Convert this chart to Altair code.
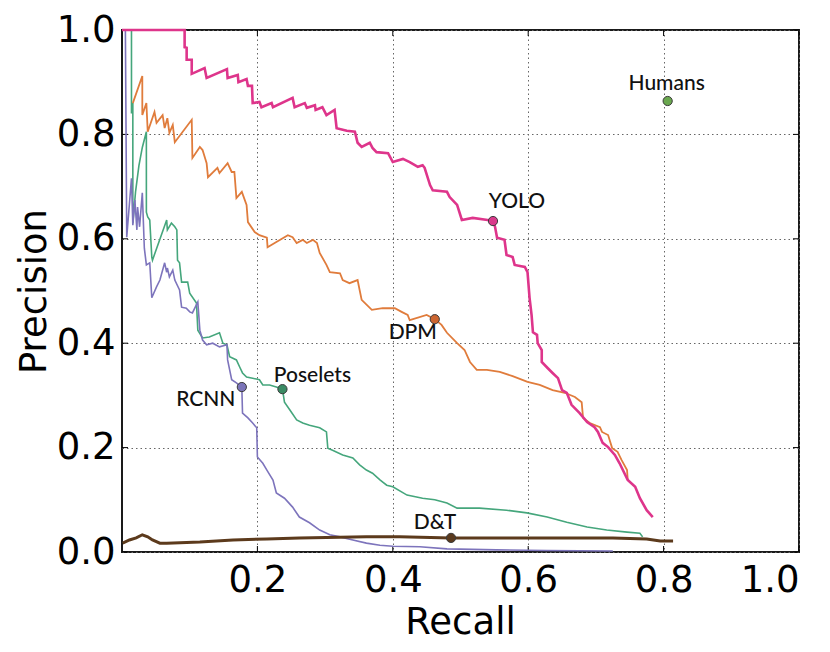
import altair as alt
import pandas as pd

# ---------------- data ----------------
yolo_recall = [0.000, 0.0925, 0.0925, 0.0955, 0.0955, 0.103, 0.103, 0.122, 0.125, 0.155, 0.156, 0.171, 0.172,
               0.184, 0.186, 0.192, 0.193, 0.203, 0.206, 0.221, 0.223, 0.252, 0.255, 0.270, 0.273, 0.285, 0.286,
               0.296, 0.302, 0.314, 0.317, 0.332, 0.344, 0.348, 0.354, 0.366, 0.370, 0.376, 0.393, 0.400, 0.415,
               0.425, 0.437, 0.444, 0.447, 0.455, 0.459, 0.480, 0.484, 0.495, 0.502, 0.518, 0.540, 0.548, 0.551,
               0.554, 0.565, 0.568, 0.577, 0.580, 0.595, 0.599, 0.602, 0.605, 0.607, 0.613, 0.614, 0.620, 0.620,
               0.629, 0.636, 0.644, 0.650, 0.657, 0.664, 0.676, 0.687, 0.698, 0.703, 0.710, 0.718, 0.728, 0.735,
               0.747, 0.758, 0.765, 0.775, 0.784]
yolo_precision = [1.000, 1.000, 0.967, 0.966, 0.943, 0.943, 0.916, 0.927, 0.908, 0.925, 0.908, 0.914, 0.900,
                  0.906, 0.893, 0.893, 0.860, 0.862, 0.852, 0.860, 0.852, 0.870, 0.852, 0.860, 0.851, 0.856, 0.847,
                  0.852, 0.837, 0.847, 0.812, 0.807, 0.805, 0.784, 0.776, 0.784, 0.774, 0.766, 0.764, 0.747, 0.753,
                  0.747, 0.738, 0.741, 0.736, 0.703, 0.693, 0.690, 0.680, 0.665, 0.636, 0.640, 0.636, 0.634, 0.623,
                  0.602, 0.598, 0.569, 0.565, 0.550, 0.546, 0.536, 0.487, 0.454, 0.421, 0.416, 0.400, 0.387, 0.364,
                  0.352, 0.343, 0.333, 0.310, 0.305, 0.282, 0.266, 0.249, 0.239, 0.230, 0.209, 0.201, 0.186, 0.170,
                  0.138, 0.125, 0.103, 0.080, 0.067]

dpm_recall = [0.016, 0.030, 0.030, 0.036, 0.038, 0.048, 0.051, 0.060, 0.063, 0.067, 0.070, 0.075, 0.078, 0.103,
              0.104, 0.115, 0.119, 0.125, 0.127, 0.141, 0.144, 0.156, 0.162, 0.166, 0.169, 0.177, 0.184, 0.186,
              0.196, 0.203, 0.214, 0.215, 0.228, 0.245, 0.252, 0.258, 0.267, 0.273, 0.282, 0.288, 0.292, 0.302,
              0.307, 0.322, 0.326, 0.336, 0.348, 0.351, 0.354, 0.369, 0.385, 0.403, 0.413, 0.422, 0.425, 0.450,
              0.462, 0.472, 0.480, 0.495, 0.506, 0.514, 0.524, 0.539, 0.558, 0.577, 0.599, 0.617, 0.636, 0.654,
              0.669, 0.679, 0.681, 0.691, 0.706, 0.709, 0.718, 0.724, 0.732, 0.738, 0.746, 0.747]
dpm_precision = [0.860, 0.912, 0.837, 0.860, 0.805, 0.843, 0.822, 0.837, 0.812, 0.831, 0.803, 0.818, 0.785, 0.828,
                 0.755, 0.776, 0.770, 0.745, 0.718, 0.736, 0.726, 0.745, 0.728, 0.728, 0.678, 0.690, 0.665, 0.632,
                 0.613, 0.607, 0.602, 0.584, 0.594, 0.607, 0.603, 0.592, 0.598, 0.592, 0.598, 0.592, 0.573, 0.550,
                 0.536, 0.534, 0.521, 0.515, 0.521, 0.502, 0.483, 0.464, 0.467, 0.467, 0.460, 0.454, 0.444, 0.454,
                 0.446, 0.435, 0.420, 0.400, 0.387, 0.364, 0.349, 0.349, 0.345, 0.337, 0.326, 0.320, 0.310, 0.305,
                 0.297, 0.287, 0.257, 0.247, 0.239, 0.230, 0.224, 0.199, 0.192, 0.176, 0.157, 0.138]

poselets_recall = [0.014, 0.014, 0.016, 0.016, 0.020, 0.025, 0.030, 0.036, 0.036, 0.038, 0.041, 0.044, 0.045,
                   0.066, 0.067, 0.073, 0.078, 0.081, 0.082, 0.085, 0.088, 0.097, 0.100, 0.110, 0.112, 0.119,
                   0.129, 0.144, 0.149, 0.155, 0.159, 0.169, 0.174, 0.178, 0.184, 0.193, 0.203, 0.208, 0.218,
                   0.228, 0.237, 0.240, 0.248, 0.258, 0.267, 0.277, 0.292, 0.302, 0.304, 0.311, 0.326, 0.341,
                   0.351, 0.361, 0.370, 0.381, 0.391, 0.400, 0.421, 0.444, 0.462, 0.480, 0.495, 0.528, 0.568,
                   0.598, 0.628, 0.657, 0.687, 0.716, 0.746, 0.765, 0.769]
poselets_precision = [1.000, 0.840, 0.860, 0.630, 0.690, 0.740, 0.775, 0.805, 0.651, 0.642, 0.636, 0.565, 0.559,
                      0.636, 0.617, 0.630, 0.623, 0.617, 0.559, 0.554, 0.517, 0.517, 0.496, 0.477, 0.425, 0.410,
                      0.412, 0.420, 0.400, 0.397, 0.374, 0.368, 0.354, 0.343, 0.335, 0.333, 0.330, 0.320, 0.320,
                      0.316, 0.312, 0.287, 0.272, 0.253, 0.247, 0.243, 0.238, 0.230, 0.199, 0.195, 0.186, 0.180,
                      0.167, 0.157, 0.151, 0.138, 0.128, 0.125, 0.109, 0.103, 0.100, 0.094, 0.084, 0.084, 0.080,
                      0.075, 0.067, 0.057, 0.048, 0.042, 0.038, 0.036, 0.029]

rcnn_recall = [0.005, 0.007, 0.014, 0.016, 0.019, 0.022, 0.023, 0.026, 0.030, 0.033, 0.036, 0.041, 0.044, 0.051,
               0.056, 0.063, 0.066, 0.067, 0.070, 0.075, 0.078, 0.085, 0.088, 0.095, 0.100, 0.104, 0.112, 0.115,
               0.119, 0.125, 0.134, 0.144, 0.155, 0.156, 0.162, 0.169, 0.177, 0.178, 0.186, 0.193, 0.199, 0.200,
               0.208, 0.214, 0.223, 0.228, 0.240, 0.252, 0.262, 0.277, 0.292, 0.307, 0.322, 0.341, 0.361, 0.381,
               0.400, 0.440, 0.480, 0.553, 0.627, 0.725]
rcnn_precision = [1.000, 0.603, 0.716, 0.626, 0.674, 0.617, 0.661, 0.623, 0.688, 0.582, 0.550, 0.554, 0.487, 0.508,
                  0.521, 0.554, 0.536, 0.544, 0.527, 0.540, 0.521, 0.502, 0.469, 0.467, 0.460, 0.458, 0.479, 0.425,
                  0.406, 0.397, 0.400, 0.393, 0.397, 0.368, 0.330, 0.324, 0.316, 0.266, 0.257, 0.247, 0.238, 0.182,
                  0.170, 0.157, 0.138, 0.113, 0.103, 0.086, 0.067, 0.056, 0.042, 0.033, 0.029, 0.023, 0.017, 0.013,
                  0.011, 0.010, 0.006, 0.004, 0.003, 0.002]

dt_recall = [0.001, 0.011, 0.021, 0.030, 0.038, 0.045, 0.056, 0.066, 0.115, 0.164, 0.214, 0.262, 0.361, 0.410,
             0.486, 0.725, 0.775, 0.795, 0.814]
dt_precision = [0.017, 0.023, 0.027, 0.033, 0.029, 0.023, 0.017, 0.017, 0.019, 0.023, 0.025, 0.027, 0.029, 0.029,
                0.027, 0.027, 0.025, 0.021, 0.021]

# labelled operating points
point_names = ["YOLO", "DPM", "Poselets", "RCNN", "D&T", "Humans"]
point_recall = [0.548, 0.462, 0.237, 0.177, 0.486, 0.806]
point_precision = [0.634, 0.446, 0.312, 0.316, 0.027, 0.864]

x_ticks = [0.2, 0.4, 0.6, 0.8, 1.0]
y_ticks = [0.0, 0.2, 0.4, 0.6, 0.8, 1.0]

# ---------------- styling ----------------
W, H = 677, 522
series = [
    ("Poselets", poselets_recall, poselets_precision, "#45a67c", 1.6),
    ("RCNN", rcnn_recall, rcnn_precision, "#7d74bc", 1.6),
    ("DPM", dpm_recall, dpm_precision, "#e07c3c", 1.8),
    ("YOLO", yolo_recall, yolo_precision, "#de358b", 2.6),
    ("D&T", dt_recall, dt_precision, "#5c3a1c", 3.0),
]
point_fill = {"YOLO": "#d9398b", "DPM": "#cc6530", "Poselets": "#3b8b63",
              "RCNN": "#7b74b8", "D&T": "#5a3a1e", "Humans": "#6aa84f"}
label_offset = {"YOLO": (24, -13), "DPM": (-22, 20), "Poselets": (30, -7),
                "RCNN": (-36, 19), "D&T": (-16, -9), "Humans": (-1, -11)}

x_enc = alt.X("recall:Q", title="Recall",
              scale=alt.Scale(domain=[0, 1], nice=False, zero=False),
              axis=alt.Axis(values=x_ticks, format=".1f", labelPadding=10,
                            titleX=338, titleY=81, titleBaseline="alphabetic", titleAlign="center"))
y_enc = alt.Y("precision:Q", title="Precision",
              scale=alt.Scale(domain=[0, 1], nice=False, zero=False),
              axis=alt.Axis(values=y_ticks, format=".1f", labelPadding=7, labelBaseline="middle",
                            titleX=-77, titleY=261, titleAngle=270, titleBaseline="alphabetic",
                            titleAlign="center"))

layers = []

# inward tick marks on all four sides (matplotlib classic style)
xt = pd.DataFrame({"recall": x_ticks})
yt = pd.DataFrame({"precision": y_ticks})
tick_len = 6
layers.append(alt.Chart(xt).mark_rule(color="black", strokeWidth=1)
              .encode(x=x_enc, y=alt.value(H), y2=alt.value(H - tick_len)))
layers.append(alt.Chart(xt).mark_rule(color="black", strokeWidth=1)
              .encode(x=x_enc, y=alt.value(0), y2=alt.value(tick_len)))
layers.append(alt.Chart(yt).mark_rule(color="black", strokeWidth=1)
              .encode(y=y_enc, x=alt.value(0), x2=alt.value(tick_len)))
layers.append(alt.Chart(yt).mark_rule(color="black", strokeWidth=1)
              .encode(y=y_enc, x=alt.value(W - tick_len), x2=alt.value(W)))

for name, rec, prec, col, w in series:
    df = pd.DataFrame({"recall": rec, "precision": prec, "idx": list(range(len(rec)))})
    layers.append(
        alt.Chart(df).mark_line(color=col, strokeWidth=w, interpolate="linear")
        .encode(x=x_enc, y=y_enc, order=alt.Order("idx:Q"))
    )

pts = pd.DataFrame({"name": point_names, "recall": point_recall, "precision": point_precision,
                    "fill": [point_fill[n] for n in point_names]})
layers.append(
    alt.Chart(pts).mark_point(filled=True, size=85, stroke="#3a3a3a", strokeWidth=1, opacity=1)
    .encode(x=x_enc, y=y_enc, fill=alt.Fill("fill:N", scale=None))
)
for n in point_names:
    dx, dy = label_offset[n]
    sub = pts[pts["name"] == n]
    layers.append(
        alt.Chart(sub).mark_text(font="Lato", fontSize=21, fontWeight=500, color="#111111", dx=dx, dy=dy,
                                 align="center", baseline="alphabetic")
        .encode(x=x_enc, y=y_enc, text="name:N")
    )

chart = (
    alt.layer(*layers)
    .properties(width=W, height=H, autosize=alt.AutoSizeParams(type="none"),
                padding={"left": 122, "top": 30, "right": 31, "bottom": 100}, background="white")
    .configure_view(stroke="#1a1a1a", strokeWidth=2)
    .configure_axis(grid=True, gridColor="#666666", gridDash=[1.5, 3], gridWidth=1,
                    domain=False, ticks=False, tickSize=0,
                    labelFont="DejaVu Sans", labelFontSize=37, labelColor="black",
                    titleFont="DejaVu Sans", titleFontSize=37, titleFontWeight="normal", titleColor="black")
)

chart.save("out.html", embed_options={"renderer": "svg", "actions": False})
